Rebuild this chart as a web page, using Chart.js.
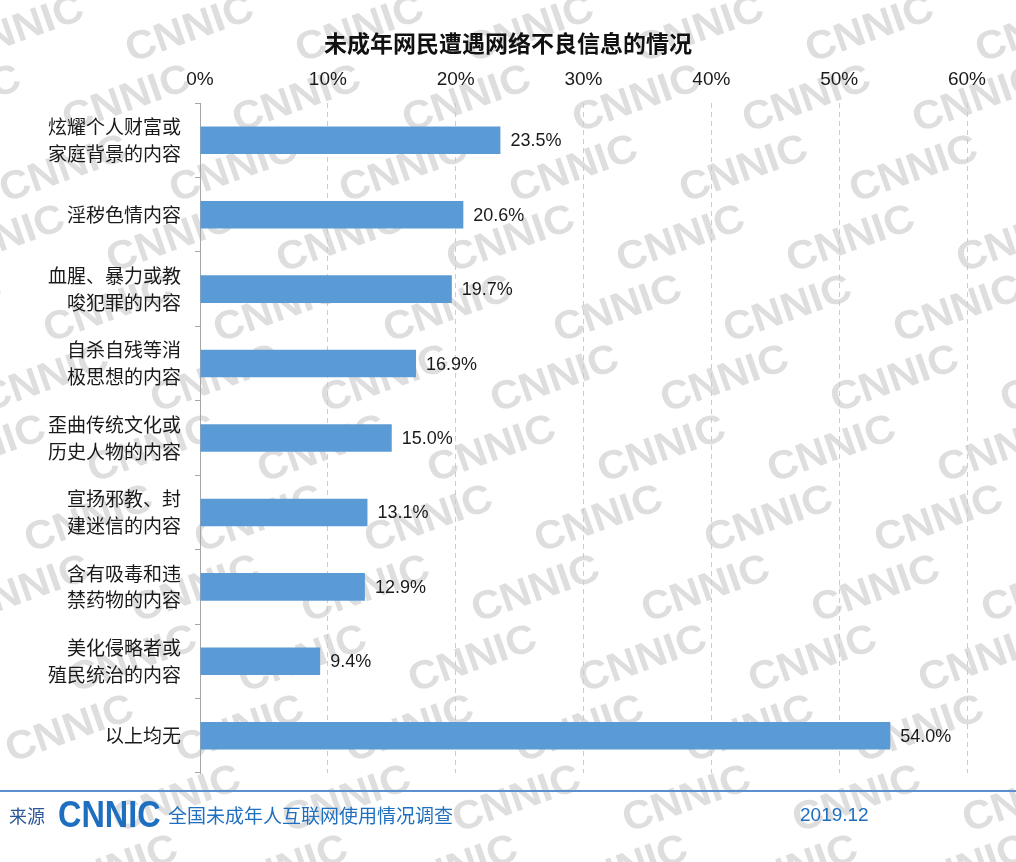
<!DOCTYPE html>
<html>
<head>
<meta charset="utf-8">
<script src="https://cdn.jsdelivr.net/npm/chart.js@4/dist/chart.umd.min.js"></script>
<style>
  html, body { margin: 0; padding: 0; background: #fff; }
  #wrap { width: 1016px; height: 862px; }
</style>
</head>
<body>
<div id="wrap"><canvas id="chart" width="1016" height="862"></canvas></div>
<script>
// chart data
const categories = [
  ["炫耀个人财富或", "家庭背景的内容"],
  "淫秽色情内容",
  ["血腥、暴力或教", "唆犯罪的内容"],
  ["自杀自残等消", "极思想的内容"],
  ["歪曲传统文化或", "历史人物的内容"],
  ["宣扬邪教、封", "建迷信的内容"],
  ["含有吸毒和违", "禁药物的内容"],
  ["美化侵略者或", "殖民统治的内容"],
  "以上均无"
];
const values = [23.5, 20.6, 19.7, 16.9, 15.0, 13.1, 12.9, 9.4, 54.0];
const xTicks = [0, 10, 20, 30, 40, 50, 60];

const titleText = "未成年网民遭遇网络不良信息的情况";
const FONT = "'Liberation Sans', Arial, 'Noto Sans CJK SC', sans-serif";

// light grey CNNIC watermark behind everything
const watermark = {
  id: "watermark",
  beforeDraw(chart) {
    const ctx = chart.ctx;
    ctx.save();
    ctx.fillStyle = "#ffffff";
    ctx.fillRect(0, 0, chart.width, chart.height);
    ctx.fillStyle = "#dedede";
    ctx.font = "bold 40px " + FONT;
    ctx.textAlign = "center";
    ctx.textBaseline = "middle";
    for (let row = 0; row < 14; row++) {
      for (let col = -1; col < 8; col++) {
        const x = col * 170 + (row % 2) * 85 + 20 + row * 22;
        const y = row * 70 + 30;
        ctx.save();
        ctx.translate(x, y);
        ctx.rotate(-0.34);
        ctx.scale(1.05, 1);
        ctx.fillText("CNNIC", 0, 0);
        ctx.restore();
      }
    }
    ctx.restore();
  }
};

// title, value labels and footer
const extras = {
  id: "extras",
  afterDatasetsDraw(chart) {
    const ctx = chart.ctx;
    const meta = chart.getDatasetMeta(0);
    ctx.save();
    ctx.fillStyle = "#1a1a1a";
    ctx.font = "18px " + FONT;
    ctx.textAlign = "left";
    ctx.textBaseline = "middle";
    meta.data.forEach((bar, i) => {
      ctx.fillText(values[i].toFixed(1) + "%", bar.x + 10, bar.y + 1);
    });
    ctx.restore();
  },
  afterDraw(chart) {
    const ctx = chart.ctx;
    ctx.save();
    // title
    ctx.fillStyle = "#111";
    ctx.font = "bold 23px 'Noto Sans CJK SC', sans-serif";
    ctx.textAlign = "center";
    ctx.textBaseline = "middle";
    ctx.fillText(titleText, chart.width / 2, 43);
    // footer
    ctx.strokeStyle = "#5b8fd0";
    ctx.lineWidth = 2;
    ctx.beginPath();
    ctx.moveTo(0, 791);
    ctx.lineTo(chart.width, 791);
    ctx.stroke();
    ctx.textAlign = "left";
    ctx.fillStyle = "#2b5797";
    ctx.font = "18px 'Noto Sans CJK SC', sans-serif";
    ctx.fillText("来源", 9, 816);
    ctx.fillStyle = "#1f6fc0";
    ctx.font = "bold 36px " + FONT;
    ctx.save();
    ctx.translate(58, 816);
    ctx.scale(0.9, 1);
    ctx.fillText("CNNIC", 0, 1);
    ctx.restore();
    ctx.font = "19px 'Noto Sans CJK SC', sans-serif";
    ctx.fillText("全国未成年人互联网使用情况调查", 168, 816);
    ctx.font = "19px " + FONT;
    ctx.fillText("2019.12", 800, 816);
    ctx.restore();
  }
};

new Chart(document.getElementById("chart"), {
  type: "bar",
  data: {
    labels: categories,
    datasets: [{
      data: values,
      backgroundColor: "#5b9bd5",
      borderWidth: 0,
      barPercentage: 0.74,
      categoryPercentage: 0.5
    }]
  },
  options: {
    indexAxis: "y",
    responsive: false,
    animation: false,
    layout: { padding: { top: 68, right: 49, bottom: 89, left: 0 } },
    plugins: {
      legend: { display: false },
      title: { display: false },
      tooltip: { enabled: false }
    },
    scales: {
      x: {
        position: "top",
        min: 0,
        max: 60,
        afterBuildTicks(scale) {
          scale.ticks = xTicks.map(v => ({ value: v }));
        },
        afterFit(scale) { scale.height = 35; },
        ticks: {
          callback: v => v + "%",
          color: "#1a1a1a",
          font: { size: 19, family: FONT },
          padding: 12
        },
        grid: {
          color: "#cccccc",
          tickLength: 0,
          drawTicks: false
        },
        border: { display: false, dash: [5, 4] }
      },
      y: {
        afterFit(scale) { scale.width = 200; },
        ticks: {
          color: "#1a1a1a",
          font: { size: 19, family: "'Noto Sans CJK SC', sans-serif", lineHeight: 1.4 },
          padding: 14,
          crossAlign: "near"
        },
        grid: {
          offset: true,
          drawOnChartArea: false,
          tickLength: 5,
          color: "#a6a6a6"
        },
        border: { display: true, color: "#a6a6a6", width: 1 }
      }
    }
  },
  plugins: [watermark, extras]
});
</script>
</body>
</html>
